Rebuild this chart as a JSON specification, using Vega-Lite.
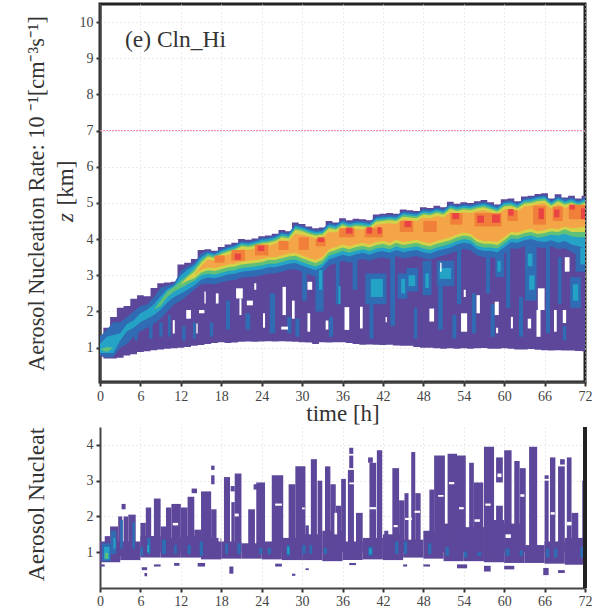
{"$schema":"https://vega.github.io/schema/vega-lite/v6.json","background":"white","padding":{"left":23,"top":2,"right":14,"bottom":0},"spacing":45,"bounds":"flush",
"config":{"font":"Liberation Serif","axis":{"labelFont":"Liberation Serif","labelFontSize":14,"labelFlush":false,"labelColor":"#444","tickColor":"#333","tickWidth":2,"tickSize":4,"domainColor":"#444","domainWidth":2,"gridColor":"#d8d8d8","gridDash":[1,3],"labelPadding":3,"labelOverlap":false,"titleFont":"Liberation Serif","titleFontSize":23,"titleFontWeight":"normal","titleColor":"#333"}},
"datasets":{
"top":[
{"t":0,"a":0.75,"b":1.35,"c":0.8,"d":1.3,"e":0.85,"f":1.1,"g":0.95,"h":0.95,"i":0.95,"j":0.95,"k":0.95,"m":0.95},
{"t":1,"a":0.7,"b":1.55,"c":0.72,"d":1.5,"e":0.85,"f":1.3,"g":0.88,"h":1.02,"i":0.95,"j":0.95,"k":0.95,"m":0.95},
{"t":2,"a":0.7,"b":1.85,"c":0.75,"d":1.7,"e":0.85,"f":1.35,"g":1.0,"h":1.0,"i":1,"j":1,"k":1,"m":1},
{"t":3,"a":0.72,"b":2.1,"c":1.0,"d":1.7,"e":1.2,"f":1.4,"g":1.3,"h":1.3,"i":1.3,"j":1.3,"k":1.3,"m":1.3},
{"t":4,"a":0.78,"b":2.15,"c":1.1,"d":1.85,"e":1.45,"f":1.65,"g":1.55,"h":1.55,"i":1.55,"j":1.55,"k":1.55,"m":1.55},
{"t":5,"a":0.82,"b":2.35,"c":1.3,"d":2.0,"e":1.55,"f":1.75,"g":1.65,"h":1.65,"i":1.65,"j":1.65,"k":1.65,"m":1.65},
{"t":6,"a":0.88,"b":2.45,"c":1.45,"d":2.15,"e":1.7,"f":1.95,"g":1.8,"h":1.8,"i":1.8,"j":1.8,"k":1.8,"m":1.8},
{"t":7,"a":0.9,"b":2.42,"c":1.55,"d":2.2,"e":1.8,"f":2.05,"g":1.9,"h":1.9,"i":1.9,"j":1.9,"k":1.9,"m":1.9},
{"t":8,"a":0.93,"b":2.65,"c":1.65,"d":2.4,"e":1.9,"f":2.2,"g":2.05,"h":2.05,"i":2.05,"j":2.05,"k":2.05,"m":2.05},
{"t":9,"a":0.95,"b":2.78,"c":1.8,"d":2.65,"e":2.05,"f":2.42,"g":2.15,"h":2.3,"i":2.2,"j":2.2,"k":2.2,"m":2.2},
{"t":10,"a":0.97,"b":2.8,"c":2.0,"d":2.72,"e":2.25,"f":2.62,"g":2.4,"h":2.55,"i":2.5,"j":2.5,"k":2.5,"m":2.5},
{"t":11,"a":0.98,"b":2.82,"c":2.2,"d":2.78,"e":2.4,"f":2.72,"g":2.55,"h":2.68,"i":2.6,"j":2.6,"k":2.6,"m":2.6},
{"t":12,"a":1.0,"b":3.3,"c":2.3,"d":3.12,"e":2.5,"f":3.0,"g":2.65,"h":2.85,"i":2.75,"j":2.75,"k":2.75,"m":2.75},
{"t":13,"a":1.02,"b":3.35,"c":2.45,"d":3.25,"e":2.6,"f":3.15,"g":2.75,"h":3.0,"i":2.85,"j":2.95,"k":2.9,"m":2.9},
{"t":14,"a":1.05,"b":3.45,"c":2.6,"d":3.35,"e":2.72,"f":3.28,"g":2.85,"h":3.18,"i":2.92,"j":3.1,"k":3.0,"m":3.0},
{"t":15,"a":1.07,"b":3.7,"c":2.75,"d":3.6,"e":2.88,"f":3.5,"g":3.0,"h":3.42,"i":3.08,"j":3.35,"k":3.15,"m":3.25},
{"t":16,"a":1.1,"b":3.72,"c":2.77,"d":3.67,"e":2.94,"f":3.62,"g":3.04,"h":3.57,"i":3.14,"j":3.52,"k":3.22,"m":3.44},
{"t":17,"a":1.13,"b":3.68,"c":2.75,"d":3.63,"e":2.92,"f":3.58,"g":3.02,"h":3.53,"i":3.12,"j":3.48,"k":3.2,"m":3.4},
{"t":18,"a":1.15,"b":3.78,"c":2.8,"d":3.73,"e":2.97,"f":3.68,"g":3.07,"h":3.63,"i":3.17,"j":3.58,"k":3.25,"m":3.5},
{"t":19,"a":1.13,"b":3.85,"c":2.85,"d":3.8,"e":3.02,"f":3.75,"g":3.12,"h":3.7,"i":3.22,"j":3.65,"k":3.3,"m":3.57},
{"t":20,"a":1.14,"b":3.9,"c":2.87,"d":3.85,"e":3.04,"f":3.8,"g":3.14,"h":3.75,"i":3.24,"j":3.7,"k":3.32,"m":3.62},
{"t":21,"a":1.16,"b":4.0,"c":2.93,"d":3.95,"e":3.1,"f":3.9,"g":3.2,"h":3.85,"i":3.3,"j":3.8,"k":3.38,"m":3.72},
{"t":22,"a":1.17,"b":3.98,"c":2.95,"d":3.93,"e":3.12,"f":3.88,"g":3.22,"h":3.83,"i":3.32,"j":3.78,"k":3.4,"m":3.7},
{"t":23,"a":1.16,"b":4.02,"c":2.97,"d":3.97,"e":3.14,"f":3.92,"g":3.24,"h":3.87,"i":3.34,"j":3.82,"k":3.42,"m":3.74},
{"t":24,"a":1.17,"b":4.08,"c":3.0,"d":4.03,"e":3.17,"f":3.98,"g":3.27,"h":3.93,"i":3.37,"j":3.88,"k":3.45,"m":3.8},
{"t":25,"a":1.18,"b":4.1,"c":3.05,"d":4.05,"e":3.22,"f":4.0,"g":3.32,"h":3.95,"i":3.42,"j":3.9,"k":3.5,"m":3.82},
{"t":26,"a":1.17,"b":4.15,"c":3.05,"d":4.1,"e":3.22,"f":4.05,"g":3.32,"h":4.0,"i":3.42,"j":3.95,"k":3.5,"m":3.87},
{"t":27,"a":1.18,"b":4.25,"c":3.1,"d":4.2,"e":3.27,"f":4.15,"g":3.37,"h":4.1,"i":3.47,"j":4.05,"k":3.55,"m":3.97},
{"t":28,"a":1.17,"b":4.22,"c":3.15,"d":4.17,"e":3.32,"f":4.12,"g":3.42,"h":4.07,"i":3.52,"j":4.02,"k":3.6,"m":3.94},
{"t":29,"a":1.16,"b":4.46,"c":3.17,"d":4.41,"e":3.34,"f":4.36,"g":3.44,"h":4.31,"i":3.54,"j":4.26,"k":3.62,"m":4.15},
{"t":30,"a":1.15,"b":4.42,"c":3.1,"d":4.37,"e":3.27,"f":4.32,"g":3.37,"h":4.27,"i":3.47,"j":4.22,"k":3.55,"m":4.12},
{"t":31,"a":1.14,"b":4.35,"c":3.03,"d":4.3,"e":3.2,"f":4.25,"g":3.3,"h":4.2,"i":3.4,"j":4.15,"k":3.48,"m":4.07},
{"t":32,"a":1.1,"b":4.3,"c":2.97,"d":4.25,"e":3.14,"f":4.2,"g":3.24,"h":4.15,"i":3.34,"j":4.1,"k":3.42,"m":4.02},
{"t":33,"a":1.15,"b":4.32,"c":3.05,"d":4.27,"e":3.22,"f":4.22,"g":3.32,"h":4.17,"i":3.42,"j":4.12,"k":3.5,"m":4.04},
{"t":34,"a":1.14,"b":4.5,"c":3.27,"d":4.45,"e":3.44,"f":4.4,"g":3.54,"h":4.35,"i":3.64,"j":4.3,"k":3.72,"m":4.2},
{"t":35,"a":1.15,"b":4.46,"c":3.33,"d":4.41,"e":3.5,"f":4.36,"g":3.6,"h":4.31,"i":3.7,"j":4.26,"k":3.78,"m":4.18},
{"t":36,"a":1.15,"b":4.58,"c":3.4,"d":4.53,"e":3.57,"f":4.48,"g":3.67,"h":4.43,"i":3.77,"j":4.38,"k":3.85,"m":4.3},
{"t":37,"a":1.13,"b":4.52,"c":3.35,"d":4.47,"e":3.52,"f":4.42,"g":3.62,"h":4.37,"i":3.72,"j":4.32,"k":3.8,"m":4.24},
{"t":38,"a":1.1,"b":4.56,"c":3.41,"d":4.51,"e":3.58,"f":4.46,"g":3.68,"h":4.41,"i":3.78,"j":4.36,"k":3.86,"m":4.28},
{"t":39,"a":1.08,"b":4.55,"c":3.45,"d":4.5,"e":3.62,"f":4.45,"g":3.72,"h":4.4,"i":3.82,"j":4.35,"k":3.9,"m":4.27},
{"t":40,"a":1.09,"b":4.52,"c":3.4,"d":4.47,"e":3.57,"f":4.42,"g":3.67,"h":4.37,"i":3.77,"j":4.32,"k":3.85,"m":4.24},
{"t":41,"a":1.08,"b":4.68,"c":3.47,"d":4.63,"e":3.64,"f":4.58,"g":3.74,"h":4.53,"i":3.84,"j":4.48,"k":3.92,"m":4.4},
{"t":42,"a":1.07,"b":4.7,"c":3.5,"d":4.65,"e":3.67,"f":4.6,"g":3.77,"h":4.55,"i":3.87,"j":4.5,"k":3.95,"m":4.42},
{"t":43,"a":1.08,"b":4.72,"c":3.45,"d":4.67,"e":3.62,"f":4.62,"g":3.72,"h":4.57,"i":3.82,"j":4.52,"k":3.9,"m":4.44},
{"t":44,"a":1.06,"b":4.7,"c":3.53,"d":4.65,"e":3.7,"f":4.6,"g":3.8,"h":4.55,"i":3.9,"j":4.5,"k":3.98,"m":4.42},
{"t":45,"a":1.05,"b":4.82,"c":3.47,"d":4.77,"e":3.64,"f":4.72,"g":3.74,"h":4.67,"i":3.84,"j":4.62,"k":3.92,"m":4.54},
{"t":46,"a":1.05,"b":4.8,"c":3.5,"d":4.75,"e":3.67,"f":4.7,"g":3.77,"h":4.65,"i":3.87,"j":4.6,"k":3.95,"m":4.52},
{"t":47,"a":1.02,"b":4.78,"c":3.53,"d":4.73,"e":3.7,"f":4.68,"g":3.8,"h":4.63,"i":3.9,"j":4.58,"k":3.98,"m":4.5},
{"t":48,"a":1.0,"b":4.88,"c":3.47,"d":4.83,"e":3.64,"f":4.78,"g":3.74,"h":4.73,"i":3.84,"j":4.68,"k":3.92,"m":4.6},
{"t":49,"a":1.0,"b":4.86,"c":3.43,"d":4.81,"e":3.6,"f":4.76,"g":3.7,"h":4.71,"i":3.8,"j":4.66,"k":3.88,"m":4.58},
{"t":50,"a":0.98,"b":4.92,"c":3.5,"d":4.87,"e":3.67,"f":4.82,"g":3.77,"h":4.77,"i":3.87,"j":4.72,"k":3.95,"m":4.64},
{"t":51,"a":0.97,"b":4.88,"c":3.55,"d":4.83,"e":3.72,"f":4.78,"g":3.82,"h":4.73,"i":3.92,"j":4.68,"k":4.0,"m":4.6},
{"t":52,"a":0.98,"b":5.03,"c":3.6,"d":4.98,"e":3.77,"f":4.93,"g":3.87,"h":4.88,"i":3.97,"j":4.83,"k":4.05,"m":4.75},
{"t":53,"a":0.97,"b":4.98,"c":3.68,"d":4.93,"e":3.85,"f":4.88,"g":3.95,"h":4.83,"i":4.05,"j":4.78,"k":4.13,"m":4.7},
{"t":54,"a":0.98,"b":5.02,"c":3.73,"d":4.97,"e":3.9,"f":4.92,"g":4.0,"h":4.87,"i":4.1,"j":4.82,"k":4.18,"m":4.74},
{"t":55,"a":0.97,"b":5.0,"c":3.7,"d":4.95,"e":3.87,"f":4.9,"g":3.97,"h":4.85,"i":4.07,"j":4.8,"k":4.15,"m":4.72},
{"t":56,"a":0.98,"b":5.05,"c":3.55,"d":5.0,"e":3.72,"f":4.95,"g":3.82,"h":4.9,"i":3.92,"j":4.85,"k":4.0,"m":4.77},
{"t":57,"a":0.99,"b":5.08,"c":3.5,"d":5.03,"e":3.67,"f":4.98,"g":3.77,"h":4.93,"i":3.87,"j":4.88,"k":3.95,"m":4.8},
{"t":58,"a":0.97,"b":5.02,"c":3.5,"d":4.97,"e":3.67,"f":4.92,"g":3.77,"h":4.87,"i":3.87,"j":4.82,"k":3.95,"m":4.74},
{"t":59,"a":0.97,"b":4.96,"c":3.47,"d":4.91,"e":3.64,"f":4.86,"g":3.74,"h":4.81,"i":3.84,"j":4.76,"k":3.92,"m":4.68},
{"t":60,"a":0.98,"b":5.1,"c":3.6,"d":5.05,"e":3.77,"f":5.0,"g":3.87,"h":4.95,"i":3.97,"j":4.9,"k":4.05,"m":4.82},
{"t":61,"a":0.97,"b":5.12,"c":3.75,"d":5.07,"e":3.92,"f":5.02,"g":4.02,"h":4.97,"i":4.12,"j":4.92,"k":4.2,"m":4.84},
{"t":62,"a":0.95,"b":5.05,"c":3.73,"d":5.0,"e":3.9,"f":4.95,"g":4.0,"h":4.9,"i":4.1,"j":4.85,"k":4.18,"m":4.77},
{"t":63,"a":0.95,"b":5.18,"c":3.8,"d":5.13,"e":3.97,"f":5.08,"g":4.07,"h":5.03,"i":4.17,"j":4.98,"k":4.25,"m":4.9},
{"t":64,"a":0.96,"b":5.2,"c":3.83,"d":5.15,"e":4.0,"f":5.1,"g":4.1,"h":5.05,"i":4.2,"j":5.0,"k":4.28,"m":4.92},
{"t":65,"a":0.94,"b":5.25,"c":3.77,"d":5.2,"e":3.94,"f":5.15,"g":4.04,"h":5.1,"i":4.14,"j":5.05,"k":4.22,"m":4.97},
{"t":66,"a":0.93,"b":5.27,"c":3.75,"d":5.22,"e":3.92,"f":5.17,"g":4.07,"h":5.12,"i":4.17,"j":5.07,"k":4.25,"m":4.99},
{"t":67,"a":0.92,"b":5.12,"c":3.8,"d":5.07,"e":3.97,"f":5.02,"g":4.12,"h":4.97,"i":4.22,"j":4.92,"k":4.3,"m":4.84},
{"t":68,"a":0.93,"b":5.24,"c":3.73,"d":5.19,"e":3.9,"f":5.14,"g":4.1,"h":5.09,"i":4.2,"j":5.04,"k":4.28,"m":4.96},
{"t":69,"a":0.92,"b":5.15,"c":3.75,"d":5.1,"e":3.95,"f":5.05,"g":4.15,"h":5.0,"i":4.27,"j":4.95,"k":4.35,"m":4.87},
{"t":70,"a":0.92,"b":5.2,"c":3.65,"d":5.15,"e":3.85,"f":5.1,"g":4.08,"h":5.05,"i":4.2,"j":5.0,"k":4.3,"m":4.92},
{"t":71,"a":0.91,"b":5.12,"c":3.55,"d":5.07,"e":3.8,"f":5.02,"g":4.05,"h":4.97,"i":4.2,"j":4.92,"k":4.32,"m":4.84},
{"t":72,"a":0.9,"b":5.2,"c":3.45,"d":5.15,"e":3.75,"f":5.1,"g":4.05,"h":5.05,"i":4.2,"j":5.0,"k":4.34,"m":4.92}
],
"tp":[
{"t":5.1,"u":5.6,"y":1.2,"v":1.75,"k":"b"},{"t":7.3,"u":7.8,"y":1.25,"v":1.7,"k":"b"},{"t":8.8,"u":9.3,"y":1.3,"v":1.7,"k":"b"},{"t":10.1,"u":10.5,"y":1.3,"v":1.9,"k":"b"},{"t":12.2,"u":12.7,"y":1.2,"v":1.6,"k":"b"},{"t":13.8,"u":14.2,"y":1.25,"v":1.7,"k":"b"},{"t":16.3,"u":16.8,"y":1.3,"v":1.7,"k":"b"},{"t":18.7,"u":19.3,"y":1.5,"v":2.3,"k":"b"},{"t":21.6,"u":22.3,"y":1.5,"v":1.95,"k":"b"},{"t":25.2,"u":26,"y":1.4,"v":2.5,"k":"b"},{"t":27.8,"u":28.4,"y":1.4,"v":1.85,"k":"b"},{"t":30,"u":30.7,"y":2.3,"v":3.3,"k":"b"},{"t":29,"u":29.6,"y":1.3,"v":1.8,"k":"b"},{"t":32,"u":33.2,"y":2.0,"v":3.2,"k":"b"},{"t":34,"u":34.6,"y":1.3,"v":1.85,"k":"b"},{"t":35,"u":35.6,"y":2.2,"v":3.5,"k":"b"},{"t":37.5,"u":38.2,"y":2.6,"v":3.6,"k":"b"},{"t":39.4,"u":42.5,"y":2.2,"v":3.05,"k":"b"},{"t":43.1,"u":43.8,"y":1.6,"v":3.6,"k":"b"},{"t":44.2,"u":45.6,"y":2.35,"v":3.05,"k":"b"},{"t":45.5,"u":47.2,"y":2.55,"v":3.2,"k":"b"},{"t":47.9,"u":49.2,"y":2.45,"v":3.4,"k":"b"},{"t":50,"u":52.6,"y":2.7,"v":3.4,"k":"b"},{"t":50.2,"u":50.9,"y":1.5,"v":2.7,"k":"b"},{"t":53,"u":53.6,"y":2.2,"v":3.75,"k":"b"},{"t":52.3,"u":52.9,"y":1.25,"v":1.9,"k":"b"},{"t":55.2,"u":55.8,"y":1.4,"v":2.5,"k":"b"},{"t":57.3,"u":57.9,"y":2.5,"v":3.75,"k":"b"},{"t":58.7,"u":60,"y":2.95,"v":3.6,"k":"b"},{"t":58,"u":58.6,"y":1.3,"v":2.2,"k":"b"},{"t":60.3,"u":60.9,"y":2.1,"v":3.85,"k":"b"},{"t":62.2,"u":62.8,"y":1.3,"v":2.4,"k":"b"},{"t":63.1,"u":64.8,"y":2.3,"v":3.85,"k":"b"},{"t":66.2,"u":66.8,"y":1.4,"v":3.8,"k":"b"},{"t":68,"u":68.5,"y":2.2,"v":3.5,"k":"b"},{"t":69.8,"u":71.4,"y":2.1,"v":2.95,"k":"b"},{"t":70.6,"u":72,"y":3.1,"v":3.85,"k":"b"},{"t":68.7,"u":69.2,"y":1.2,"v":1.6,"k":"b"},{"t":40,"u":40.6,"y":1.25,"v":2.2,"k":"b"},{"t":46.6,"u":47.1,"y":1.25,"v":2.1,"k":"b"},
{"t":40.2,"u":42,"y":2.4,"v":2.9,"k":"c"},{"t":44.7,"u":45.3,"y":2.5,"v":2.9,"k":"c"},{"t":45.8,"u":46.8,"y":2.7,"v":3.0,"k":"c"},{"t":48.3,"u":48.8,"y":2.65,"v":3.05,"k":"c"},{"t":50.4,"u":52.1,"y":2.9,"v":3.2,"k":"c"},{"t":59,"u":59.5,"y":3.1,"v":3.4,"k":"c"},{"t":63.5,"u":64.2,"y":3.25,"v":3.6,"k":"c"},{"t":63.7,"u":64.5,"y":2.6,"v":3.0,"k":"c"},{"t":70.2,"u":71,"y":2.3,"v":2.75,"k":"c"},{"t":71.3,"u":72,"y":3.3,"v":3.75,"k":"c"},{"t":32.5,"u":33,"y":2.6,"v":3.15,"k":"c"},{"t":35.4,"u":35.7,"y":2.2,"v":2.7,"k":"c"},
{"t":30.8,"u":31.2,"y":1.44,"v":1.95,"k":"w"},{"t":30.8,"u":31.5,"y":2.6,"v":2.82,"k":"w"},{"t":36.3,"u":37,"y":1.49,"v":2.12,"k":"w"},{"t":38.6,"u":39,"y":1.53,"v":2.13,"k":"w"},{"t":48.9,"u":49.6,"y":1.72,"v":2.08,"k":"w"},{"t":53.6,"u":54.5,"y":1.44,"v":1.95,"k":"w"},{"t":55.9,"u":56.4,"y":1.95,"v":2.45,"k":"w"},{"t":58.6,"u":59.2,"y":1.9,"v":2.27,"k":"w"},{"t":61,"u":61.3,"y":1.53,"v":1.85,"k":"w"},{"t":63.5,"u":64,"y":1.53,"v":1.8,"k":"w"},{"t":65,"u":66,"y":2.04,"v":2.64,"k":"w"},{"t":64.8,"u":65.4,"y":1.3,"v":2.04,"k":"w"},{"t":67.4,"u":67.8,"y":1.44,"v":2.04,"k":"w"},{"t":68.7,"u":69.2,"y":1.68,"v":2.04,"k":"w"},{"t":69,"u":69.7,"y":3.1,"v":3.5,"k":"w"},{"t":10.8,"u":11.1,"y":1.39,"v":1.76,"k":"w"},{"t":14.3,"u":14.5,"y":1.39,"v":1.67,"k":"w"},{"t":20.2,"u":21.2,"y":2.36,"v":2.64,"k":"w"},{"t":20.7,"u":21,"y":1.9,"v":2.36,"k":"w"},{"t":27.1,"u":27.6,"y":1.9,"v":2.68,"k":"w"},{"t":14.7,"u":15.5,"y":1.95,"v":2.04,"k":"w"},{"t":15.5,"u":15.7,"y":2.22,"v":2.55,"k":"w"},{"t":17.2,"u":17.6,"y":2.22,"v":2.5,"k":"w"},{"t":21.8,"u":22.7,"y":2.17,"v":2.3,"k":"w"},{"t":22.9,"u":23.2,"y":2.6,"v":2.78,"k":"w"},{"t":26.9,"u":27.9,"y":1.5,"v":1.58,"k":"w"},{"t":12.8,"u":13.5,"y":1.8,"v":2.04,"k":"w"},{"t":24.2,"u":24.5,"y":1.55,"v":1.95,"k":"w"},{"t":28.5,"u":28.9,"y":1.8,"v":2.3,"k":"w"},{"t":33.5,"u":33.9,"y":1.5,"v":1.75,"k":"w"},{"t":42.4,"u":42.6,"y":1.7,"v":1.85,"k":"w"},{"t":50.5,"u":50.7,"y":3.1,"v":3.35,"k":"w"},{"t":54,"u":54.3,"y":2.4,"v":2.6,"k":"w"},{"t":58.8,"u":59.1,"y":1.4,"v":1.55,"k":"w"},
{"t":17,"u":18.5,"y":3.35,"v":3.55,"k":"d"},{"t":19.5,"u":21.5,"y":3.4,"v":3.7,"k":"d"},{"t":23,"u":25,"y":3.55,"v":3.85,"k":"d"},{"t":26.5,"u":28,"y":3.7,"v":3.95,"k":"d"},{"t":29.5,"u":31,"y":3.7,"v":4.05,"k":"d"},{"t":32,"u":33.5,"y":3.8,"v":4.0,"k":"d"},{"t":35.5,"u":37.8,"y":4.05,"v":4.3,"k":"d"},{"t":39.3,"u":42,"y":4.05,"v":4.3,"k":"d"},{"t":44.5,"u":46.5,"y":4.2,"v":4.5,"k":"d"},{"t":48,"u":50,"y":4.2,"v":4.5,"k":"d"},{"t":52,"u":53.8,"y":4.4,"v":4.72,"k":"d"},{"t":55.6,"u":59.6,"y":4.35,"v":4.72,"k":"d"},{"t":60.5,"u":62,"y":4.5,"v":4.8,"k":"d"},{"t":64.3,"u":66.2,"y":4.4,"v":4.92,"k":"d"},{"t":67.2,"u":68.7,"y":4.5,"v":4.9,"k":"d"},{"t":69.6,"u":72,"y":4.55,"v":4.95,"k":"d"},
{"t":20,"u":20.9,"y":3.43,"v":3.6,"k":"r"},{"t":23.4,"u":24.4,"y":3.67,"v":3.82,"k":"r"},{"t":32.3,"u":33.3,"y":3.92,"v":4.05,"k":"r"},{"t":36.5,"u":37.5,"y":4.15,"v":4.32,"k":"r"},{"t":39.6,"u":40.4,"y":4.15,"v":4.33,"k":"r"},{"t":41.2,"u":41.8,"y":4.15,"v":4.33,"k":"r"},{"t":45.2,"u":46.2,"y":4.33,"v":4.5,"k":"r"},{"t":52.3,"u":53.3,"y":4.55,"v":4.72,"k":"r"},{"t":56,"u":57,"y":4.45,"v":4.65,"k":"r"},{"t":58.2,"u":59.4,"y":4.45,"v":4.68,"k":"r"},{"t":60.6,"u":61.4,"y":4.65,"v":4.83,"k":"r"},{"t":65.1,"u":65.9,"y":4.55,"v":4.85,"k":"r"},{"t":67.4,"u":68.2,"y":4.6,"v":4.82,"k":"r"},{"t":69.7,"u":70.5,"y":4.82,"v":4.95,"k":"r"},{"t":71.4,"u":72,"y":4.55,"v":4.85,"k":"r"}
],
"lab":[{"t":3.7,"y":9.5,"s":"(e) Cln_Hi"}],
"zit":[{"t":-5.05,"y":4.6,"s":"z"}],
"zkm":[{"t":-5.05,"y":5.55,"s":"[km]"}],
"h7":[{"y":7}],
"right":[{"t":72}],
"bt":[
{"t":0,"u":3,"y":0.72,"v":1.3,"k":"p"},{"t":3,"u":6,"y":0.78,"v":1.3,"k":"p"},{"t":6,"u":9,"y":0.85,"v":1.45,"k":"p"},{"t":9,"u":12,"y":0.85,"v":1.4,"k":"p"},{"t":12,"u":15,"y":0.85,"v":1.45,"k":"p"},{"t":15,"u":18,"y":0.8,"v":1.4,"k":"p"},{"t":18,"u":21,"y":0.82,"v":1.3,"k":"p"},{"t":21,"u":24,"y":0.82,"v":1.25,"k":"p"},{"t":24,"u":27,"y":0.8,"v":1.3,"k":"p"},{"t":27,"u":30,"y":0.78,"v":1.4,"k":"p"},{"t":30,"u":33,"y":0.78,"v":1.5,"k":"p"},{"t":33,"u":36,"y":0.75,"v":1.6,"k":"p"},{"t":36,"u":39,"y":0.78,"v":1.3,"k":"p"},{"t":39,"u":42,"y":0.8,"v":1.4,"k":"p"},{"t":42,"u":45,"y":0.78,"v":1.5,"k":"p"},{"t":45,"u":48,"y":0.85,"v":1.35,"k":"p"},{"t":48,"u":51,"y":0.82,"v":1.6,"k":"p"},{"t":51,"u":54,"y":0.75,"v":1.8,"k":"p"},{"t":54,"u":57,"y":0.75,"v":1.7,"k":"p"},{"t":57,"u":60,"y":0.72,"v":1.9,"k":"p"},{"t":60,"u":63,"y":0.7,"v":1.8,"k":"p"},{"t":63,"u":66,"y":0.7,"v":1.2,"k":"p"},{"t":66,"u":69,"y":0.68,"v":1.3,"k":"p"},{"t":69,"u":72,"y":0.65,"v":1.4,"k":"p"},
{"t":0.7,"u":1.5,"y":0.8,"v":1.45,"k":"p"},{"t":1.5,"u":2.7,"y":0.8,"v":1.72,"k":"p"},{"t":2.7,"u":3.3,"y":0.9,"v":2.0,"k":"p"},{"t":3.5,"u":4.2,"y":0.9,"v":2.0,"k":"p"},{"t":4.2,"u":5.3,"y":0.9,"v":2.05,"k":"p"},{"t":6,"u":6.8,"y":1,"v":1.82,"k":"p"},{"t":6.8,"u":7.6,"y":1,"v":2.25,"k":"p"},{"t":8,"u":9,"y":1,"v":2.5,"k":"p"},{"t":9,"u":9.8,"y":1,"v":1.72,"k":"p"},{"t":9.8,"u":10.6,"y":1,"v":2.25,"k":"p"},{"t":10.6,"u":12,"y":1,"v":2.35,"k":"p"},{"t":12,"u":13,"y":1,"v":2.25,"k":"p"},{"t":13,"u":14,"y":1,"v":2.55,"k":"p"},{"t":14,"u":15,"y":1,"v":1.63,"k":"p"},{"t":15,"u":16.5,"y":1,"v":2.7,"k":"p"},{"t":16.5,"u":17.3,"y":1,"v":2.2,"k":"p"},{"t":18.4,"u":19.3,"y":1,"v":3.1,"k":"p"},{"t":19.5,"u":20,"y":1,"v":2.4,"k":"p"},{"t":20,"u":21,"y":1,"v":3.2,"k":"p"},{"t":22,"u":23,"y":1,"v":2.2,"k":"p"},{"t":23.2,"u":24.5,"y":1,"v":2.95,"k":"p"},{"t":25.5,"u":27.2,"y":1,"v":3.15,"k":"p"},{"t":28,"u":29,"y":1,"v":2.9,"k":"p"},{"t":29,"u":30.5,"y":1,"v":3.4,"k":"p"},{"t":30.5,"u":31,"y":1,"v":1.75,"k":"p"},{"t":31.3,"u":32.2,"y":1,"v":3.6,"k":"p"},{"t":32.3,"u":33,"y":1,"v":3.0,"k":"p"},{"t":33.4,"u":34.2,"y":1,"v":3.4,"k":"p"},{"t":34.2,"u":35,"y":1,"v":2.9,"k":"p"},{"t":35,"u":35.8,"y":1,"v":2.3,"k":"p"},{"t":35.8,"u":36.5,"y":1,"v":3.05,"k":"p"},{"t":36.8,"u":37.7,"y":1,"v":3.3,"k":"p"},{"t":38,"u":39,"y":1,"v":2.1,"k":"p"},{"t":40,"u":41,"y":1,"v":3.5,"k":"p"},{"t":41.1,"u":41.9,"y":1,"v":3.85,"k":"p"},{"t":42.2,"u":42.8,"y":1,"v":1.6,"k":"p"},{"t":43.4,"u":44.4,"y":1,"v":3.35,"k":"p"},{"t":44.4,"u":45.2,"y":1,"v":2.45,"k":"p"},{"t":45.2,"u":45.8,"y":1,"v":2.65,"k":"p"},{"t":46.2,"u":46.8,"y":1,"v":3.8,"k":"p"},{"t":46.8,"u":47.6,"y":1,"v":2.65,"k":"p"},{"t":48.9,"u":49.6,"y":1,"v":2.75,"k":"p"},{"t":49.6,"u":51.2,"y":1,"v":3.7,"k":"p"},{"t":51.6,"u":53,"y":1,"v":3.75,"k":"p"},{"t":53,"u":54.3,"y":1,"v":3.7,"k":"p"},{"t":54.8,"u":55.5,"y":1,"v":3.5,"k":"p"},{"t":55.5,"u":56.9,"y":1,"v":2.95,"k":"p"},{"t":57,"u":58.5,"y":1,"v":3.95,"k":"p"},{"t":58.8,"u":59.8,"y":1,"v":2.3,"k":"p"},{"t":58.8,"u":59.8,"y":2.95,"v":3.65,"k":"p"},{"t":60,"u":61.1,"y":1,"v":3.85,"k":"p"},{"t":61.5,"u":62.3,"y":1,"v":3.55,"k":"p"},{"t":62.3,"u":63.2,"y":1,"v":3.35,"k":"p"},{"t":63.7,"u":64.9,"y":1,"v":3.95,"k":"p"},{"t":66,"u":66.6,"y":1,"v":3.0,"k":"p"},{"t":66.8,"u":67.6,"y":1,"v":3.65,"k":"p"},{"t":68,"u":69,"y":1,"v":3.4,"k":"p"},{"t":69.3,"u":70,"y":1,"v":3.65,"k":"p"},{"t":70,"u":71,"y":1,"v":2.1,"k":"p"},{"t":71.6,"u":72,"y":1,"v":3.0,"k":"p"},
{"t":3.2,"u":3.8,"y":2.2,"v":2.35,"k":"p"},{"t":16.5,"u":17,"y":2.9,"v":3.15,"k":"p"},{"t":16.5,"u":17,"y":3.3,"v":3.42,"k":"p"},{"t":22.8,"u":23.5,"y":2.75,"v":2.9,"k":"p"},{"t":19.4,"u":20,"y":2.7,"v":2.85,"k":"p"},{"t":37,"u":37.6,"y":3.35,"v":3.7,"k":"p"},{"t":37,"u":37.6,"y":3.75,"v":3.92,"k":"p"},{"t":39.8,"u":40.5,"y":3.5,"v":3.65,"k":"p"},{"t":13.6,"u":14.4,"y":2.65,"v":2.78,"k":"p"},{"t":66,"u":66.6,"y":3.05,"v":3.15,"k":"p"},{"t":68.3,"u":69,"y":3.45,"v":3.6,"k":"p"},
{"t":0,"u":0.7,"y":0.6,"v":0.66,"k":"p"},{"t":6.2,"u":7,"y":0.5,"v":0.58,"k":"p"},{"t":6.6,"u":7,"y":0.33,"v":0.42,"k":"p"},{"t":8,"u":9,"y":0.6,"v":0.66,"k":"p"},{"t":11,"u":11.8,"y":0.62,"v":0.7,"k":"p"},{"t":14.5,"u":15.6,"y":0.6,"v":0.7,"k":"p"},{"t":19.2,"u":19.8,"y":0.4,"v":0.6,"k":"p"},{"t":26,"u":27,"y":0.6,"v":0.68,"k":"p"},{"t":28.5,"u":29,"y":0.34,"v":0.4,"k":"p"},{"t":30.5,"u":31,"y":0.5,"v":0.55,"k":"p"},{"t":37,"u":38,"y":0.64,"v":0.7,"k":"p"},{"t":45,"u":45.6,"y":0.6,"v":0.66,"k":"p"},{"t":48,"u":49,"y":0.6,"v":0.66,"k":"p"},{"t":53,"u":54.5,"y":0.55,"v":0.66,"k":"p"},{"t":57,"u":58,"y":0.46,"v":0.62,"k":"p"},{"t":60,"u":61.5,"y":0.52,"v":0.62,"k":"p"},{"t":65.8,"u":66.6,"y":0.36,"v":0.56,"k":"p"},{"t":68,"u":69,"y":0.42,"v":0.5,"k":"p"},
{"t":37,"u":37.8,"y":2.9,"v":2.95,"k":"w"},{"t":40,"u":41,"y":2.2,"v":2.26,"k":"w"},{"t":45.3,"u":46.3,"y":1.9,"v":1.96,"k":"w"},{"t":46.7,"u":47.5,"y":2.1,"v":2.16,"k":"w"},{"t":50.2,"u":51,"y":2.55,"v":2.6,"k":"w"},{"t":51.8,"u":52.6,"y":2.9,"v":2.96,"k":"w"},{"t":53.3,"u":54,"y":2.2,"v":2.26,"k":"w"},{"t":55.6,"u":56.4,"y":1.85,"v":1.92,"k":"w"},{"t":57.2,"u":58,"y":2.3,"v":2.36,"k":"w"},{"t":60.2,"u":61,"y":1.4,"v":1.5,"k":"w"},{"t":62.4,"u":63,"y":2.55,"v":2.62,"k":"w"},{"t":66.9,"u":67.5,"y":2.05,"v":2.12,"k":"w"},{"t":69.3,"u":70,"y":1.75,"v":1.85,"k":"w"},{"t":30,"u":30.4,"y":2.2,"v":2.25,"k":"w"},{"t":20,"u":20.6,"y":2.0,"v":2.08,"k":"w"},{"t":26,"u":27,"y":2.3,"v":2.36,"k":"w"},{"t":10.8,"u":11.6,"y":1.75,"v":1.82,"k":"w"},{"t":59,"u":59.6,"y":3.1,"v":3.2,"k":"w"},{"t":43.6,"u":44.2,"y":1.7,"v":1.76,"k":"w"},{"t":34.8,"u":35.2,"y":1.5,"v":2.1,"k":"w"},{"t":17.6,"u":17.9,"y":1.3,"v":2.0,"k":"w"},
{"t":0.3,"u":1.6,"y":0.75,"v":1.25,"k":"b"},{"t":1.6,"u":2.4,"y":0.95,"v":1.6,"k":"b"},{"t":3,"u":3.4,"y":1.1,"v":1.9,"k":"b"},{"t":4.8,"u":5.2,"y":1.1,"v":1.85,"k":"b"},{"t":6,"u":6.4,"y":0.9,"v":1.15,"k":"b"},{"t":7,"u":7.5,"y":0.95,"v":1.4,"k":"b"},{"t":9.2,"u":9.8,"y":0.95,"v":1.35,"k":"b"},{"t":11,"u":11.4,"y":0.95,"v":1.2,"k":"b"},{"t":13,"u":13.5,"y":0.95,"v":1.2,"k":"b"},{"t":14.8,"u":15.3,"y":0.9,"v":1.3,"k":"b"},{"t":18.6,"u":19,"y":0.95,"v":1.25,"k":"b"},{"t":20.4,"u":20.9,"y":0.95,"v":1.25,"k":"b"},{"t":23.6,"u":24.1,"y":0.95,"v":1.12,"k":"b"},{"t":24.9,"u":25.4,"y":0.95,"v":1.12,"k":"b"},{"t":27.7,"u":28.2,"y":0.9,"v":1.2,"k":"b"},{"t":30,"u":30.5,"y":0.95,"v":1.2,"k":"b"},{"t":31.1,"u":31.5,"y":0.95,"v":1.2,"k":"b"},{"t":33.2,"u":33.7,"y":0.95,"v":1.12,"k":"b"},{"t":39.8,"u":40.5,"y":0.9,"v":1.15,"k":"b"},{"t":43.8,"u":44.3,"y":0.95,"v":1.3,"k":"b"},{"t":45.1,"u":45.6,"y":0.95,"v":1.3,"k":"b"},{"t":48.7,"u":49.2,"y":0.95,"v":1.25,"k":"b"},{"t":51.3,"u":51.8,"y":0.9,"v":1.15,"k":"b"},{"t":54,"u":54.5,"y":0.85,"v":1.02,"k":"b"},{"t":56,"u":56.6,"y":0.9,"v":1.0,"k":"b"},{"t":60.2,"u":60.8,"y":0.9,"v":1.1,"k":"b"},{"t":62.3,"u":62.8,"y":0.9,"v":1.05,"k":"b"},{"t":66.2,"u":66.7,"y":0.85,"v":1.1,"k":"b"},{"t":67.4,"u":67.9,"y":0.85,"v":1.1,"k":"b"},{"t":71.3,"u":72,"y":0.85,"v":1.15,"k":"b"},
{"t":0.6,"u":1.4,"y":0.8,"v":1.15,"k":"c"},{"t":2,"u":2.3,"y":1.1,"v":1.4,"k":"c"},{"t":7,"u":7.3,"y":1.0,"v":1.2,"k":"c"},{"t":40,"u":40.3,"y":0.95,"v":1.1,"k":"c"},{"t":27.8,"u":28.1,"y":0.95,"v":1.15,"k":"c"},{"t":0.75,"u":1.2,"y":0.82,"v":0.98,"k":"g"}
]
},
"vconcat":[
{"width":485,"height":378,"view":{"stroke":"#222","strokeWidth":3},
"layer":[
{"data":{"name":"top"},"mark":{"type":"area","color":"#5c479b","interpolate":"step"},"encoding":{"x":{"field":"t","type":"quantitative","scale":{"domain":[0,72]},"axis":{"values":[0,6,12,18,24,30,36,42,48,54,60,66,72],"title":"time [h]","titleY":20,"grid":true}},"y":{"field":"a","type":"quantitative","scale":{"domain":[0.05,10.5]},"axis":{"values":[1,2,3,4,5,6,7,8,9,10],"title":"Aerosol Nucleation Rate: 10 ⁻¹[cm⁻³s⁻¹]","titleX":-64,"titleBaseline":"middle","titleFontSize":22.3,"grid":true}},"y2":{"field":"b"}}},
{"data":{"name":"top"},"mark":{"type":"area","color":"#2f6cb4"},"encoding":{"x":{"field":"t","type":"quantitative","scale":{"domain":[0,72]}},"y":{"field":"c","type":"quantitative","scale":{"domain":[0.05,10.5]}},"y2":{"field":"d"}}},
{"data":{"name":"tp"},"mark":{"type":"rect"},"encoding":{"x":{"field":"t","type":"quantitative","scale":{"domain":[0,72]}},"x2":{"field":"u"},"y":{"field":"y","type":"quantitative","scale":{"domain":[0.05,10.5]}},"y2":{"field":"v"},"color":{"field":"k","type":"nominal","legend":null,"scale":{"domain":["p","b","c","g","d","r","w"],"range":["#5c479b","#2f6cb4","#25a3c6","#5fc07a","#f07f3a","#ea4343","#ffffff"]}}},"transform":[{"filter":"datum.k=='b'||datum.k=='c'||datum.k=='w'"}]},
{"data":{"name":"top"},"mark":{"type":"area","color":"#25a3c6"},"encoding":{"x":{"field":"t","type":"quantitative","scale":{"domain":[0,72]}},"y":{"field":"e","type":"quantitative","scale":{"domain":[0.05,10.5]}},"y2":{"field":"f"}}},
{"data":{"name":"top"},"mark":{"type":"area","color":"#5fc07a"},"encoding":{"x":{"field":"t","type":"quantitative","scale":{"domain":[0,72]}},"y":{"field":"g","type":"quantitative","scale":{"domain":[0.05,10.5]}},"y2":{"field":"h"}}},
{"data":{"name":"top"},"mark":{"type":"area","color":"#d3d34a"},"encoding":{"x":{"field":"t","type":"quantitative","scale":{"domain":[0,72]}},"y":{"field":"i","type":"quantitative","scale":{"domain":[0.05,10.5]}},"y2":{"field":"j"}}},
{"data":{"name":"top"},"mark":{"type":"area","color":"#f4a547"},"encoding":{"x":{"field":"t","type":"quantitative","scale":{"domain":[0,72]}},"y":{"field":"k","type":"quantitative","scale":{"domain":[0.05,10.5]}},"y2":{"field":"m"}}},
{"data":{"name":"tp"},"mark":{"type":"rect"},"encoding":{"x":{"field":"t","type":"quantitative","scale":{"domain":[0,72]}},"x2":{"field":"u"},"y":{"field":"y","type":"quantitative","scale":{"domain":[0.05,10.5]}},"y2":{"field":"v"},"color":{"field":"k","type":"nominal","legend":null,"scale":{"domain":["p","b","c","g","d","r","w"],"range":["#5c479b","#2f6cb4","#25a3c6","#5fc07a","#f07f3a","#ea4343","#ffffff"]}}},"transform":[{"filter":"datum.k=='d'||datum.k=='r'"}]},
{"data":{"name":"h7"},"mark":{"type":"rule","color":"#f47fb8","strokeWidth":1,"strokeDash":[2,1]},"encoding":{"y":{"field":"y","type":"quantitative","scale":{"domain":[0.05,10.5]}},"color":{"value":"#f47fb8"}}},
{"data":{"name":"lab"},"mark":{"type":"text","align":"left","font":"Liberation Serif","fontSize":23.5,"color":"#333"},"encoding":{"x":{"field":"t","type":"quantitative","scale":{"domain":[0,72]}},"y":{"field":"y","type":"quantitative","scale":{"domain":[0.05,10.5]}},"text":{"field":"s"}}},
{"data":{"name":"zit"},"mark":{"type":"text","angle":270,"font":"Liberation Serif","fontStyle":"italic","fontSize":23,"color":"#333"},"encoding":{"x":{"field":"t","type":"quantitative","scale":{"domain":[0,72]}},"y":{"field":"y","type":"quantitative","scale":{"domain":[0.05,10.5]}},"text":{"field":"s"}}},
{"data":{"name":"zkm"},"mark":{"type":"text","angle":270,"font":"Liberation Serif","fontSize":23,"color":"#333"},"encoding":{"x":{"field":"t","type":"quantitative","scale":{"domain":[0,72]}},"y":{"field":"y","type":"quantitative","scale":{"domain":[0.05,10.5]}},"text":{"field":"s"}}}
]},
{"width":485,"height":161,"view":{"stroke":null},
"layer":[
{"data":{"name":"bt"},"mark":{"type":"rect"},"encoding":{"x":{"field":"t","type":"quantitative","scale":{"domain":[0,72]},"axis":{"values":[0,6,12,18,24,30,36,42,48,54,60,66,72],"title":null,"grid":true,"labelPadding":2}},"x2":{"field":"u"},"y":{"field":"y","type":"quantitative","scale":{"domain":[0,4.5]},"axis":{"values":[1,2,3,4],"title":"Aerosol Nucleat","titleX":-64,"titleY":77,"titleBaseline":"middle","titleFontSize":23.5,"grid":true}},"y2":{"field":"v"},"color":{"field":"k","type":"nominal","legend":null,"scale":{"domain":["p","b","c","g","w"],"range":["#5c479b","#2f6cb4","#25a3c6","#5fc07a","#ffffff"]}}}},
{"data":{"name":"right"},"mark":{"type":"rule","color":"#222","strokeWidth":4},"encoding":{"x":{"field":"t","type":"quantitative","scale":{"domain":[0,72]}}}}
]}
]}
